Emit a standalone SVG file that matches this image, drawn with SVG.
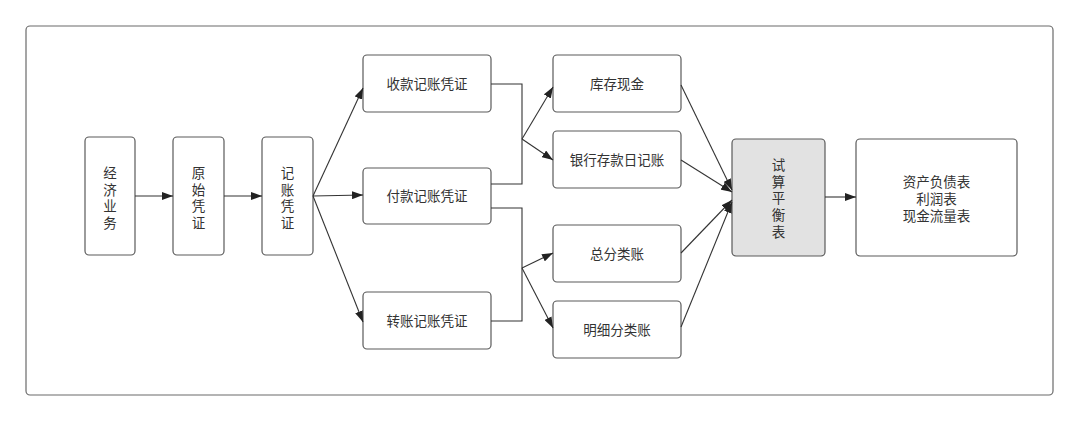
<svg xmlns="http://www.w3.org/2000/svg" width="1080" height="421" viewBox="0 0 1080 421">
<style>
.node{fill:#ffffff;stroke:#5a5a5a;stroke-width:1.2}
.gray{fill:#e2e2e2}
.t{font-family:"Liberation Sans","Noto Sans CJK SC",sans-serif;font-size:13.5px;fill:#333333;text-anchor:middle;dominant-baseline:central}
.c{fill:none;stroke:#333333;stroke-width:1.1}
</style>
<defs>
<marker id="ah" markerUnits="userSpaceOnUse" markerWidth="11" markerHeight="8" refX="11" refY="4" orient="auto">
<path d="M0,0 L11,4 L0,8 z" fill="#222222"/>
</marker>
</defs>
<rect x="0" y="0" width="1080" height="421" fill="#ffffff"/>
<rect x="26" y="26" width="1027" height="369" rx="4" fill="#ffffff" stroke="#6a6a6a" stroke-width="1.2"/>

<g id="n1"><rect class="node" x="85" y="137" width="50" height="118" rx="4"/>
<text class="t"><tspan x="110" y="173">经</tspan><tspan x="110" y="189.5">济</tspan><tspan x="110" y="206">业</tspan><tspan x="110" y="222.5">务</tspan></text></g>
<g id="n2"><rect class="node" x="173" y="137" width="51" height="118" rx="4"/>
<text class="t"><tspan x="198.5" y="173">原</tspan><tspan x="198.5" y="189.5">始</tspan><tspan x="198.5" y="206">凭</tspan><tspan x="198.5" y="222.5">证</tspan></text></g>
<g id="n3"><rect class="node" x="262" y="137" width="51" height="118" rx="4"/>
<text class="t"><tspan x="287.5" y="173">记</tspan><tspan x="287.5" y="189.5">账</tspan><tspan x="287.5" y="206">凭</tspan><tspan x="287.5" y="222.5">证</tspan></text></g>

<g id="n4"><rect class="node" x="363" y="55" width="128" height="57" rx="4"/><text class="t" x="427" y="84">收款记账凭证</text></g>
<g id="n5"><rect class="node" x="363" y="168" width="128" height="56" rx="4"/><text class="t" x="427" y="196">付款记账凭证</text></g>
<g id="n6"><rect class="node" x="363" y="292" width="128" height="57" rx="4"/><text class="t" x="427" y="321">转账记账凭证</text></g>

<g id="n7"><rect class="node" x="553" y="55" width="128" height="57" rx="4"/><text class="t" x="617" y="84">库存现金</text></g>
<g id="n8"><rect class="node" x="553" y="131" width="128" height="57" rx="4"/><text class="t" x="617" y="160">银行存款日记账</text></g>
<g id="n9"><rect class="node" x="553" y="225" width="128" height="57" rx="4"/><text class="t" x="617" y="254">总分类账</text></g>
<g id="n10"><rect class="node" x="553" y="301" width="128" height="57" rx="4"/><text class="t" x="617" y="330">明细分类账</text></g>

<g id="n11"><rect class="node gray" x="732" y="139" width="93" height="117" rx="4"/>
<text class="t"><tspan x="778.5" y="165">试</tspan><tspan x="778.5" y="181.7">算</tspan><tspan x="778.5" y="198.4">平</tspan><tspan x="778.5" y="215.1">衡</tspan><tspan x="778.5" y="231.8">表</tspan></text></g>

<g id="n12"><rect class="node" x="856" y="139" width="161" height="117" rx="4"/>
<text class="t"><tspan x="936.5" y="182">资产负债表</tspan><tspan x="936.5" y="199">利润表</tspan><tspan x="936.5" y="216">现金流量表</tspan></text></g>

<g id="connectors">
<line class="c" x1="135" y1="196" x2="173" y2="196" marker-end="url(#ah)"/>
<line class="c" x1="224" y1="196" x2="262" y2="196" marker-end="url(#ah)"/>
<line class="c" x1="313" y1="196" x2="363" y2="88" marker-end="url(#ah)"/>
<line class="c" x1="313" y1="196" x2="363" y2="195" marker-end="url(#ah)"/>
<line class="c" x1="313" y1="196" x2="363" y2="322" marker-end="url(#ah)"/>
<polyline class="c" points="491,84 522,84 522,184 491,184"/>
<line class="c" x1="522" y1="139" x2="553" y2="87" marker-end="url(#ah)"/>
<line class="c" x1="522" y1="139" x2="553" y2="160" marker-end="url(#ah)"/>
<polyline class="c" points="491,208 522,208 522,321 491,321"/>
<line class="c" x1="522" y1="268" x2="553" y2="253" marker-end="url(#ah)"/>
<line class="c" x1="522" y1="268" x2="553" y2="328" marker-end="url(#ah)"/>
<line class="c" x1="681" y1="85" x2="732" y2="190" marker-end="url(#ah)"/>
<line class="c" x1="681" y1="160" x2="732" y2="192" marker-end="url(#ah)"/>
<line class="c" x1="681" y1="253" x2="732" y2="200" marker-end="url(#ah)"/>
<line class="c" x1="681" y1="327" x2="732" y2="202" marker-end="url(#ah)"/>
<line class="c" x1="825" y1="197" x2="856" y2="197" marker-end="url(#ah)"/>
</g>
</svg>
